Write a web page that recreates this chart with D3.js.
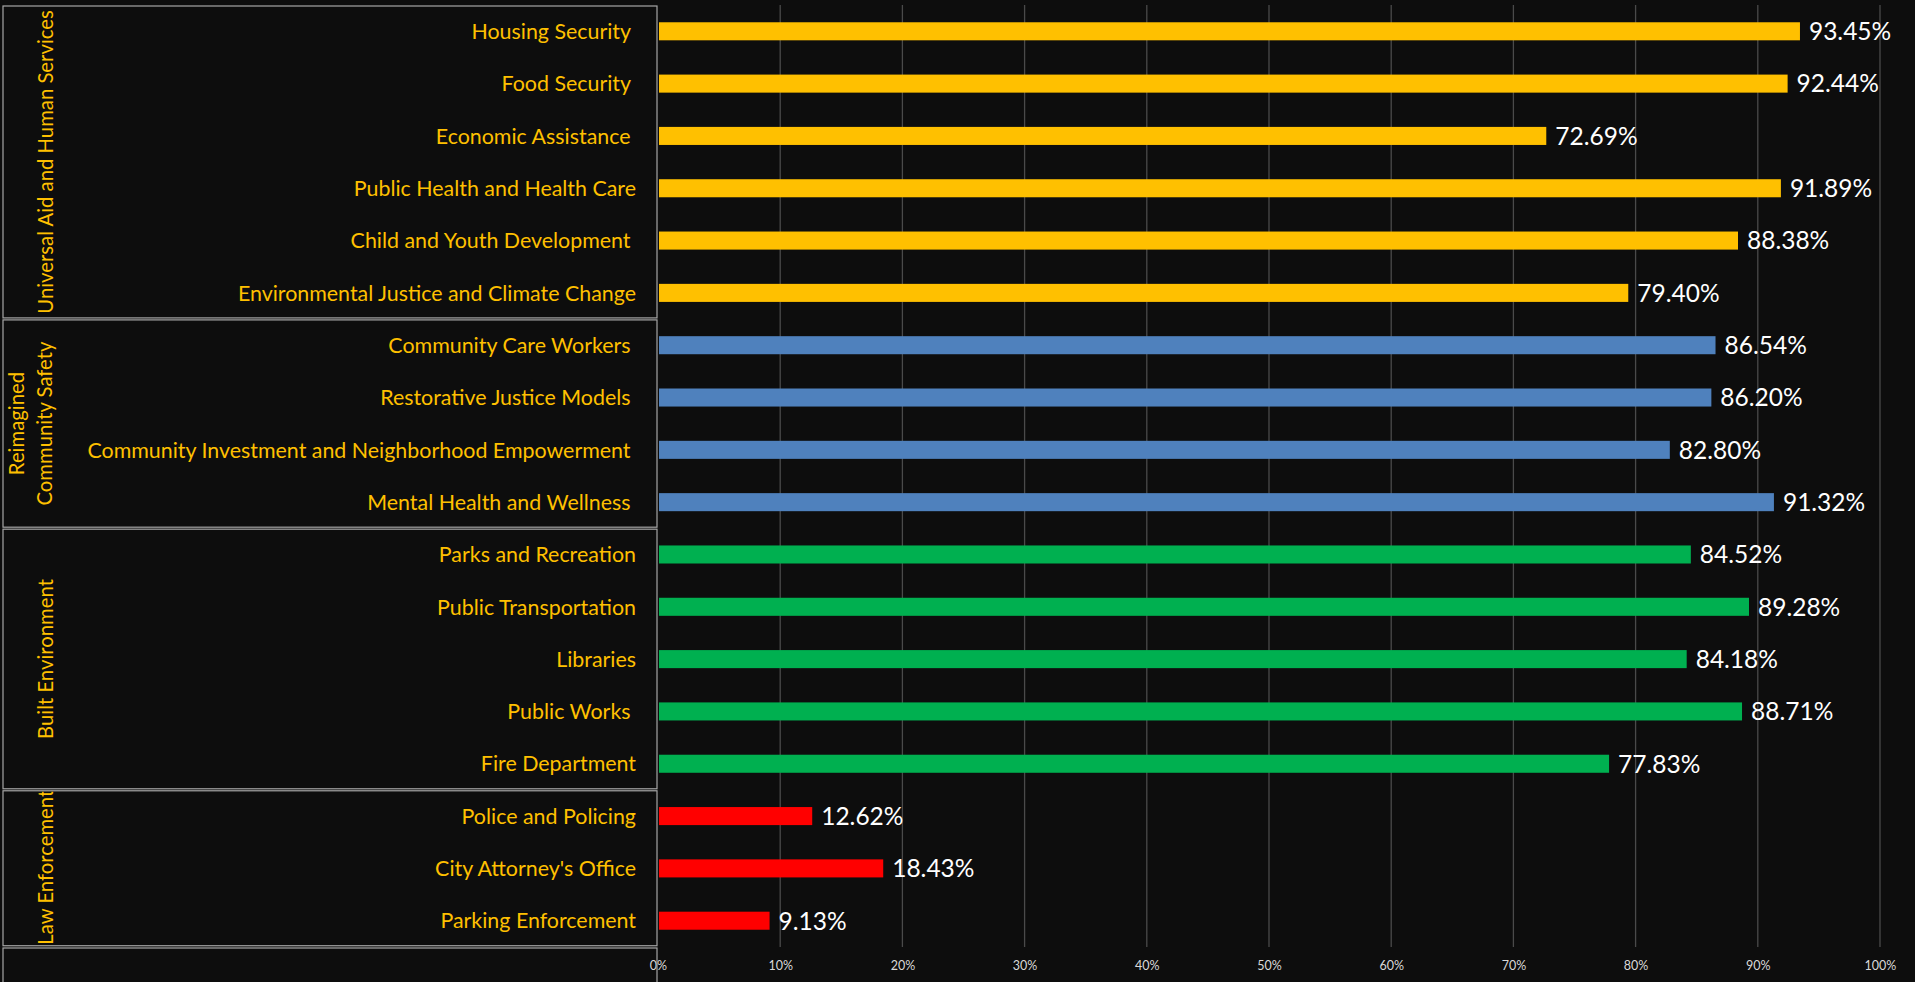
<!DOCTYPE html>
<html>
<head>
<meta charset="utf-8">
<script src="https://cdn.jsdelivr.net/npm/d3@7"></script>
<style>
  html, body { margin: 0; padding: 0; background: #0d0d0d; overflow: hidden; }
  text { font-family: Lato, "Open Sans", sans-serif; }
</style>
</head>
<body>
<svg id="chart"></svg>
<script>
// categories, top to bottom
const categories = [
    "Housing Security ", "Food Security ", "Economic Assistance ", "Public Health and Health Care",
    "Child and Youth Development ", "Environmental Justice and Climate Change",
    "Community Care Workers ", "Restorative Justice Models ", "Community Investment and Neighborhood Empowerment ",
    "Mental Health and Wellness ",
    "Parks and Recreation", "Public Transportation", "Libraries", "Public Works ", "Fire Department",
    "Police and Policing", "City Attorney's Office", "Parking Enforcement"
]
const values = [93.45, 92.44, 72.69, 91.89, 88.38, 79.40, 86.54, 86.20, 82.80, 91.32,
    84.52, 89.28, 84.18, 88.71, 77.83, 12.62, 18.43, 9.13]

const groupNames = [["Universal Aid and Human Services"], ["Reimagined", "Community Safety"], ["Built Environment"], ["Law Enforcement"]]
const groupSizes = [6, 4, 5, 3]
const groupColors = ["#ffc000", "#4f81bd", "#00b050", "#ff0000"]

const xTicks = [0, 10, 20, 30, 40, 50, 60, 70, 80, 90, 100]

const W = 1915, H = 982
const plotLeft = 658, plotRight = 1880, plotTop = 5, plotBottom = 947

const svg = d3.select("#chart").attr("width", W).attr("height", H)

svg.append("rect").attr("width", W).attr("height", H).attr("fill", "#0d0d0d")

const x = d3.scaleLinear().domain([0, 100]).range([plotLeft, plotRight])
const y = d3.scaleBand().domain(d3.range(categories.length)).range([plotTop, plotBottom]).paddingInner(0.655).paddingOuter(0.33)

// group index per row
const rowGroup = []
groupSizes.forEach((n, g) => { for (let i = 0; i < n; i++) rowGroup.push(g) })

// gridlines
svg.append("g")
    .selectAll("line")
    .data(xTicks.slice(1))
    .join("line")
        .attr("x1", d => x(d)).attr("x2", d => x(d))
        .attr("y1", plotTop).attr("y2", plotBottom)
        .attr("stroke", "#4a4a4a").attr("stroke-width", 1.3)

// x axis labels
const xAxis = d3.axisBottom(x).tickValues(xTicks).tickFormat(d => d + "%").tickSize(0).tickPadding(14)
const xg = svg.append("g").attr("transform", `translate(0, ${plotBottom})`).call(xAxis)
xg.select(".domain").remove()
xg.selectAll("text").attr("fill", "#d9d9d9").attr("font-size", 12.5).style("font-family", "Lato, sans-serif")

// bars
svg.append("g")
    .selectAll("rect")
    .data(values)
    .join("rect")
        .attr("x", x(0) + 1)
        .attr("y", (d, i) => y(i))
        .attr("width", d => x(d) - x(0) - 1)
        .attr("height", y.bandwidth())
        .attr("fill", (d, i) => groupColors[rowGroup[i]])

// value labels
svg.append("g")
    .selectAll("text")
    .data(values)
    .join("text")
        .attr("x", d => x(d) + 9)
        .attr("y", (d, i) => y(i) + y.bandwidth() / 2)
        .attr("dy", "0.36em")
        .attr("fill", "#ffffff")
        .attr("font-size", 24.5)
        .text(d => d.toFixed(2) + "%")

// left table boxes
const step = y.step()
let start = 0
const boxes = groupSizes.map((n, g) => {
    const b = { g: g, y0: plotTop + start * step, y1: plotTop + (start + n) * step }
    start += n
    return b
})

const defs = svg.append("defs")
boxes.forEach(b => {
    defs.append("clipPath").attr("id", "clip" + b.g)
        .append("rect").attr("x", 2).attr("y", b.y0 + 2).attr("width", plotLeft - 4).attr("height", b.y1 - b.y0 - 4)
})

svg.append("g")
    .selectAll("rect")
    .data(boxes)
    .join("rect")
        .attr("x", 3)
        .attr("y", d => d.y0 + 1)
        .attr("width", plotLeft - 4)
        .attr("height", d => d.y1 - d.y0 - 2)
        .attr("fill", "none")
        .attr("stroke", "#a6a6a6")
        .attr("stroke-width", 1.2)

// empty cell under the table
svg.append("rect")
    .attr("x", 3).attr("y", plotBottom + 1)
    .attr("width", plotLeft - 4).attr("height", 60)
    .attr("fill", "none").attr("stroke", "#a6a6a6").attr("stroke-width", 1.2)

// group labels, rotated
boxes.forEach(b => {
    const lines = groupNames[b.g]
    const cy = (b.y0 + b.y1) / 2
    const lab = svg.append("g").attr("clip-path", `url(#clip${b.g})`)
    lines.forEach((t, k) => {
        const cx = lines.length === 1 ? 46 : 17 + k * 28
        const last = b.g === groupNames.length - 1
        lab.append("text")
            .attr("transform", `translate(${cx}, ${last ? b.y1 - 2 : cy}) rotate(-90)`)
            .attr("text-anchor", last ? "start" : "middle")
            .attr("dy", "0.36em")
            .attr("fill", "#ffc000")
            .attr("font-size", last ? 20.3 : 20.3)
            .text(t)
    })
})

// category labels
svg.append("g")
    .selectAll("text")
    .data(categories)
    .join("text")
        .attr("x", 636)
        .attr("y", (d, i) => y(i) + y.bandwidth() / 2)
        .attr("dy", "0.36em")
        .attr("text-anchor", "end")
        .attr("fill", "#ffc000")
        .attr("font-size", 21.4)
        .style("white-space", "pre")
        .text(d => d)
</script>
</body>
</html>
